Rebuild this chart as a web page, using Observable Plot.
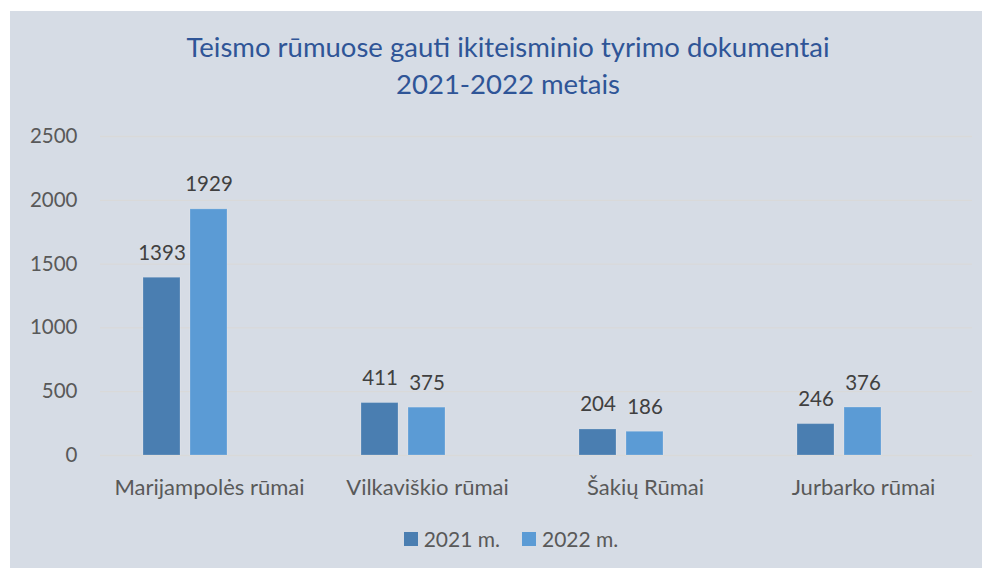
<!DOCTYPE html>
<html><head><meta charset="utf-8">
<script src="https://cdn.jsdelivr.net/npm/d3@7"></script>
<script src="https://cdn.jsdelivr.net/npm/@observablehq/plot@0.6"></script>
<style>
body{margin:0;background:#fff;font-family:Lato,"Open Sans",sans-serif;}
#panel{position:absolute;left:10px;top:11px;width:972px;height:557px;background:#d6dce5;}
#title{position:absolute;left:12px;top:28px;width:992px;text-align:center;color:#2f5597;font-size:27.5px;line-height:37px;}
#chart{position:absolute;left:0;top:111px;}
#legend{position:absolute;left:15px;top:526px;width:992px;display:flex;justify-content:center;gap:22px;font-size:21px;color:#595959;}
#legend span{display:inline-flex;align-items:center;gap:6px;}
#legend i{display:inline-block;width:14px;height:14px;}
</style></head>
<body>
<div id="panel"></div>
<div id="title">Teismo rūmuose gauti ikiteisminio tyrimo dokumentai<br>2021-2022 metais</div>
<div id="chart"></div>
<div id="legend"></div>
<script>
const categories = ["Marijampolės rūmai","Vilkaviškio rūmai","Šakių Rūmai","Jurbarko rūmai"];
const series = ["2021 m.","2022 m."];
const slots = ["2021 m.","2022 m.",""]; // third, empty series slot as in the source chart
const values2021 = [1393, 411, 204, 246];
const values2022 = [1929, 375, 186, 376];
const yTicks = [0,500,1000,1500,2000,2500];
const colors = ["#4a7eb1","#5b9bd5"];

const data = [];
categories.forEach((c,i)=>{
  data.push({cat:c, year:series[0], v:values2021[i]});
  data.push({cat:c, year:series[1], v:values2022[i]});
});

const plot = Plot.plot({
  width:992, height:400,
  marginLeft:99, marginRight:19, marginTop:25, marginBottom:56,
  style:{background:"transparent", fontFamily:"Lato, 'Open Sans', sans-serif", fontSize:"22px", color:"#595959"},
  fx:{domain:categories, padding:0, label:null, axis:"bottom", tickSize:0, tickPadding:24},
  x:{domain:slots, paddingInner:0.208, paddingOuter:0.9, axis:null},
  y:{domain:[0,2500], ticks:yTicks, label:null, tickSize:0, tickPadding:23, grid:false, tickFormat:d=>String(d)},
  color:{domain:series, range:colors},
  marks:[
    Plot.ruleY(yTicks,{stroke:"#d9d9d9", strokeWidth:1.3}),
    Plot.axisY({ticks:yTicks, tickSize:0, tickPadding:23, tickFormat:d=>String(d), fontSize:20.5, label:null}),
    Plot.barY(data,{fx:"cat", x:"year", y:"v", fill:"year", stroke:"#ffffff", strokeOpacity:0.2, strokeWidth:1}),
    Plot.text(data,{fx:"cat", x:"year", y:"v", text:d=>String(d.v), lineAnchor:"bottom", dy:-18, fill:"#404040", fontSize:20.5})
  ]
});
document.getElementById("chart").appendChild(plot);

const leg = document.getElementById("legend");
series.forEach((s,i)=>{
  const sp=document.createElement("span");
  sp.innerHTML=`<i style="background:${colors[i]}"></i>${s}`;
  leg.appendChild(sp);
});
</script>
</body></html>
